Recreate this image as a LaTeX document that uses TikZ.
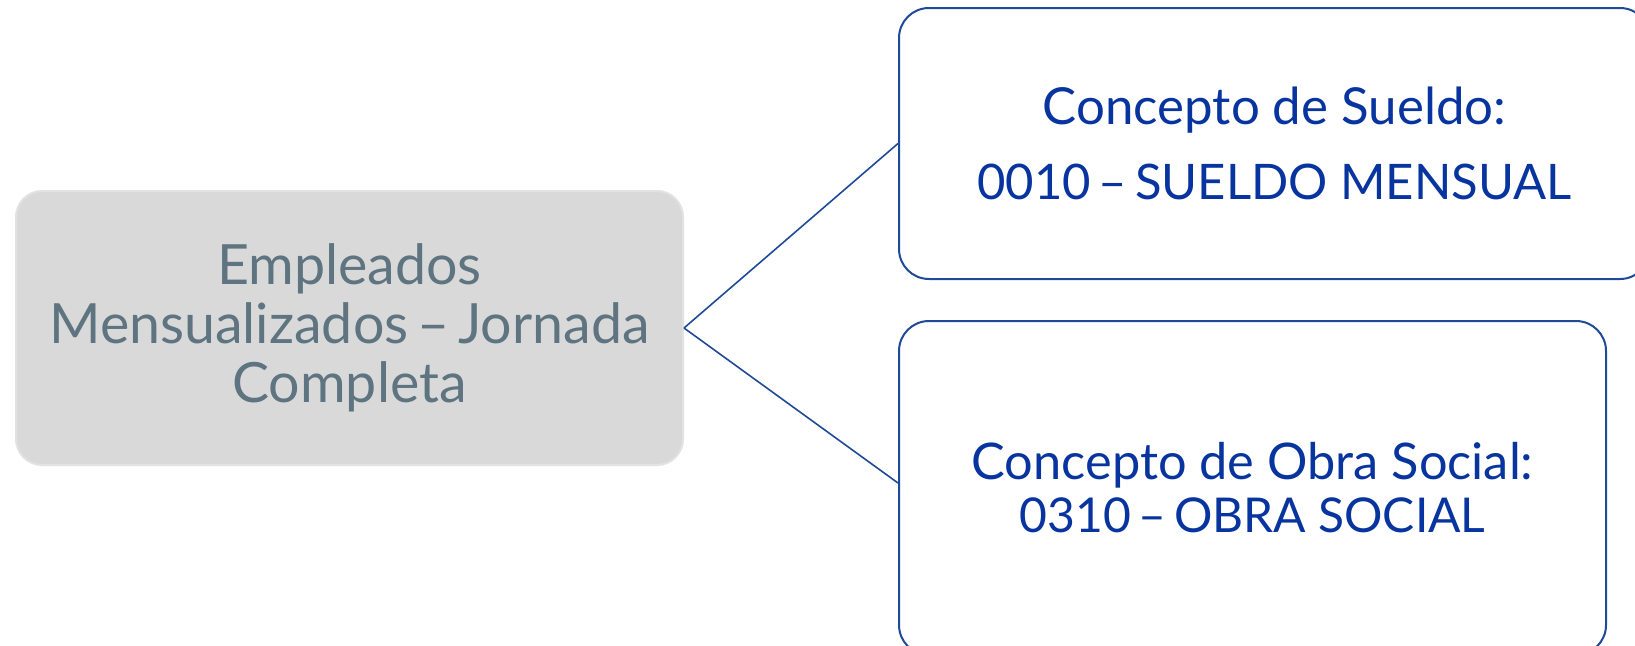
\documentclass[tikz,border=0pt]{standalone}
\usepackage{fontspec}
\setmainfont{Lato}
\definecolor{boxgray}{HTML}{D9D9D9}
\definecolor{boxgrayline}{HTML}{E2E2E2}
\definecolor{graytext}{HTML}{5E7480}
\definecolor{bluetext}{HTML}{0834A0}
\definecolor{blueline}{HTML}{1F4A98}
\newcommand{\dsh}{\hspace{0.16em}–\hspace{0.16em}}
\begin{document}
\begin{tikzpicture}[x=1pt,y=-1pt,
  graybox/.style={draw=boxgrayline,line width=2pt,fill=boxgray,rounded corners=26pt,
    text=graytext,align=center,inner sep=0pt},
  bluebox/.style={draw=blueline,line width=2pt,fill=white,rounded corners=30pt,
    text=bluetext,align=center,inner sep=0pt},
  link/.style={draw=blueline,line width=1.6pt}]
\useasboundingbox (0,0) rectangle (1635,645);
\clip (0,0) rectangle (1635,645);
\node[graybox,minimum width=667pt,minimum height=274pt,
  font=\fontsize{55.5}{59}\selectfont] (emp) at (349.5,328)
  {Empleados\\Mensualizados\dsh Jornada\\Completa};
\node[bluebox,minimum width=751pt,minimum height=271pt,
  font=\fontsize{51}{75}\selectfont] (sue) at (1274.5,143.5)
  {Concepto de Sueldo:\\\fontsize{49}{75}\selectfont 0010\dsh SUELDO MENSUAL};
\node[bluebox,minimum width=707pt,minimum height=334pt,
  font=\fontsize{50.5}{53}\selectfont] (obr) at (1252.5,488)
  {Concepto de Obra Social:\\\fontsize{48}{53}\selectfont 0310\dsh OBRA SOCIAL};
\draw[link] (emp.east) -- (sue.west);
\draw[link] (emp.east) -- ([yshift=5pt]obr.west);
\end{tikzpicture}
\end{document}
